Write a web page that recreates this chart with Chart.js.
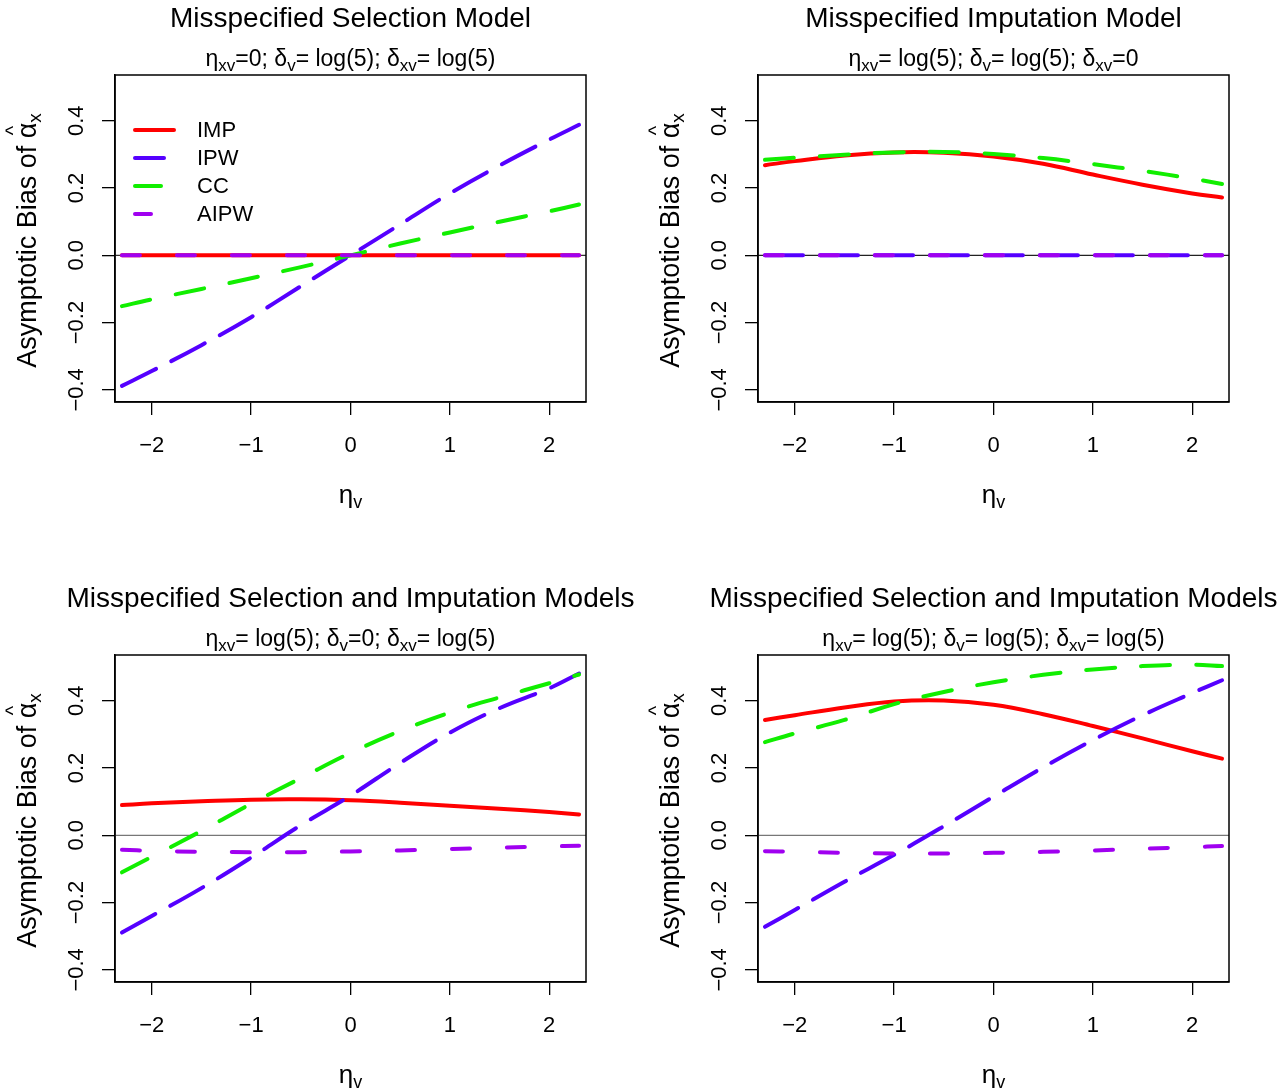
<!DOCTYPE html>
<html>
<head>
<meta charset="utf-8">
<script src="https://cdn.jsdelivr.net/npm/chart.js@4.4.1/dist/chart.umd.min.js"></script>
<style>
body{margin:0;background:#fff;width:1285px;height:1092px;position:relative;overflow:hidden}
canvas{position:absolute}
</style>
</head>
<body>
<canvas id="c1" width="642" height="512" style="left:0;top:0"></canvas>
<canvas id="c2" width="642" height="512" style="left:643px;top:0"></canvas>
<canvas id="c3" width="642" height="512" style="left:0;top:580px"></canvas>
<canvas id="c4" width="642" height="512" style="left:643px;top:580px"></canvas>
<script>
// eta_v grid
var etaV=[-2.3,-2,-1.5,-1,-0.5,0,0.5,1,1.5,2,2.3];
var xTicks=[-2,-1,0,1,2];
var yTicks=[-0.4,-0.2,0,0.2,0.4];
var seriesNames=['IMP','IPW','CC','AIPW'];

// misspecified selection model
var selIMP =[0,0,0,0,0,0,0,0,0,0,0];
var selIPW =[-0.388,-0.344,-0.267,-0.184,-0.092,0,0.092,0.184,0.267,0.344,0.388];
var selCC  =[-0.151,-0.131,-0.100,-0.068,-0.035,0,0.035,0.068,0.100,0.131,0.151];
var selAIPW=[0,0,0,0,0,0,0,0,0,0,0];

// misspecified imputation model
var impIMP =[0.268,0.280,0.297,0.306,0.305,0.294,0.272,0.240,0.210,0.184,0.172];
var impIPW =[0,0,0,0,0,0,0,0,0,0,0];
var impCC  =[0.284,0.290,0.299,0.306,0.307,0.301,0.289,0.271,0.251,0.228,0.212];
var impAIPW=[0,0,0,0,0,0,0,0,0,0,0];

// both misspecified, delta_v=0
var bothIMP =[0.090,0.095,0.101,0.106,0.107,0.104,0.097,0.088,0.079,0.069,0.062];
var bothIPW =[-0.289,-0.240,-0.157,-0.066,0.030,0.118,0.215,0.305,0.378,0.437,0.481];
var bothCC  =[-0.110,-0.064,0.013,0.094,0.170,0.245,0.310,0.365,0.410,0.452,0.478];
var bothAIPW=[-0.043,-0.046,-0.049,-0.050,-0.050,-0.048,-0.045,-0.041,-0.037,-0.033,-0.031];

// both misspecified, all log(5)
var allIMP =[0.343,0.357,0.380,0.398,0.401,0.388,0.360,0.325,0.288,0.250,0.228];
var allIPW =[-0.272,-0.222,-0.138,-0.058,0.027,0.115,0.202,0.283,0.357,0.423,0.461];
var allCC  =[0.277,0.303,0.343,0.390,0.426,0.455,0.477,0.493,0.503,0.507,0.503];
var allAIPW=[-0.047,-0.049,-0.052,-0.054,-0.054,-0.052,-0.049,-0.045,-0.040,-0.035,-0.032];

var colors={IMP:'#ff0000',IPW:'#5500ff',CC:'#11ee00',AIPW:'#a000f0'};
var dashes={IMP:[],IPW:[38,17],CC:[29,26],AIPW:[18,37]};
var legendLen={IMP:43,IPW:33,CC:30,AIPW:20};

var FONT='"Liberation Sans", Arial, Helvetica, sans-serif';
Chart.defaults.font.family=FONT;
Chart.defaults.color='#000';

function minus(s){ return String(s).replace('-','\u2212'); }

function drawParts(ctx, parts, cx, cy, size, subSize){
	var w=0;
	for(var i=0;i<parts.length;i++){
		ctx.font=(parts[i][1]?subSize:size)+'px '+FONT;
		w+=ctx.measureText(parts[i][0]).width;
	}
	var x=cx-w/2;
	ctx.textAlign='left';
	ctx.textBaseline='middle';
	for(var i=0;i<parts.length;i++){
		var sub=parts[i][1];
		ctx.font=(sub?subSize:size)+'px '+FONT;
		ctx.fillText(parts[i][0], x, cy+(sub?size*0.28:0));
		x+=ctx.measureText(parts[i][0]).width;
	}
}

var decor={
	id:'decor',
	beforeDatasetsDraw:function(chart){
		var o=chart.options.plugins.decor;
		var ctx=chart.ctx, a=chart.chartArea;
		var y0=chart.scales.y.getPixelForValue(0);
		ctx.save();
		ctx.strokeStyle=o.zeroColor;
		ctx.lineWidth=1.2;
		ctx.beginPath();
		ctx.moveTo(a.left,y0);ctx.lineTo(a.right,y0);
		ctx.stroke();
		ctx.restore();
	},
	afterDraw:function(chart){
		var o=chart.options.plugins.decor;
		var ctx=chart.ctx, a=chart.chartArea;
		var cx=(a.left+a.right)/2;
		ctx.save();
		ctx.fillStyle='#000';
		ctx.strokeStyle='#000';
		ctx.lineWidth=1.5;
		ctx.strokeRect(a.left,a.top,a.right-a.left,a.bottom-a.top);
		// title + subtitle
		ctx.font='28px '+FONT;
		ctx.textAlign='center';
		ctx.textBaseline='middle';
		ctx.fillText(o.title,cx,19);
		drawParts(ctx,o.sub,cx,60,23,17);
		// x label
		drawParts(ctx,[['\u03b7',''],['v','s']],cx,a.bottom+94,26,18);
		// y label
		ctx.translate(29,(a.top+a.bottom)/2);
		ctx.rotate(-Math.PI/2);
		var p1='Asymptotic Bias of ';
		ctx.font='27px '+FONT;
		var w1=ctx.measureText(p1).width, wa=ctx.measureText('\u03b1').width;
		ctx.font='19px '+FONT;
		var wx=ctx.measureText('x').width;
		var x=-(w1+wa+wx)/2-2;
		ctx.textAlign='left';
		ctx.font='27px '+FONT;
		ctx.fillText(p1,x,0);
		ctx.fillText('\u03b1',x+w1,0);
		ctx.font='20px '+FONT;
		ctx.textAlign='center';
		ctx.fillText('^',x+w1+wa/2,-15);
		ctx.textAlign='left';
		ctx.font='19px '+FONT;
		ctx.fillText('x',x+w1+wa,7);
		ctx.restore();
		// legend
		if(o.legend){
			ctx.save();
			ctx.lineWidth=4;
			ctx.lineCap='round';
			ctx.font='22px '+FONT;
			ctx.textAlign='left';
			ctx.textBaseline='middle';
			for(var i=0;i<seriesNames.length;i++){
				var n=seriesNames[i], ly=130+28*i;
				ctx.strokeStyle=colors[n];
				ctx.beginPath();
				ctx.moveTo(135,ly);ctx.lineTo(135+legendLen[n]-4,ly);
				ctx.stroke();
				ctx.fillStyle='#000';
				ctx.fillText(n,197,ly+1);
			}
			ctx.restore();
		}
	}
};

function makeChart(id, vals, title, sub, zeroColor, legend){
	var order={IMP:4,IPW:3,CC:2,AIPW:1};
	var ds=[];
	for(var i=0;i<seriesNames.length;i++){
		var n=seriesNames[i];
		ds.push({
			label:n,
			data:etaV.map(function(x,j){return {x:x,y:vals[i][j]};}),
			borderColor:colors[n],
			borderWidth:4,
			borderDash:dashes[n],
			borderCapStyle:'round',
			pointRadius:0,
			tension:0.4,
			fill:false,
			order:order[n]
		});
	}
	return new Chart(document.getElementById(id),{
		type:'line',
		data:{datasets:ds},
		plugins:[decor],
		options:{
			responsive:false,
			animation:false,
			layout:{padding:{top:75,right:56,left:0,bottom:0}},
			plugins:{
				legend:{display:false},
				tooltip:{enabled:false},
				decor:{title:title,sub:sub,zeroColor:zeroColor,legend:legend}
			},
			scales:{
				x:{
					type:'linear',min:-2.37,max:2.37,
					afterBuildTicks:function(s){s.ticks=xTicks.map(function(v){return {value:v};});},
					afterFit:function(s){s.height=110;},
					grid:{drawOnChartArea:false,drawTicks:true,tickLength:13,color:'#000',lineWidth:1.3},
					border:{display:true,color:'#000',width:1.5},
					ticks:{font:{size:22},color:'#000',padding:18,maxRotation:0,
						callback:function(v){return minus(v);}}
				},
				y:{
					type:'linear',min:-0.436,max:0.536,
					afterBuildTicks:function(s){s.ticks=yTicks.map(function(v){return {value:v};});},
					afterFit:function(s){s.width=115;},
					grid:{drawOnChartArea:false,drawTicks:true,tickLength:13,color:'#000',lineWidth:1.3},
					border:{display:true,color:'#000',width:1.5},
					ticks:{font:{size:22},color:'#000',padding:3,minRotation:90,maxRotation:90,crossAlign:'center',
						callback:function(v){return minus(v.toFixed(1));}}
				}
			}
		}
	});
}

var subA=[['\u03b7',''],['xv','s'],['=0; \u03b4',''],['v','s'],['= log(5); \u03b4',''],['xv','s'],['= log(5)','']];
var subB=[['\u03b7',''],['xv','s'],['= log(5); \u03b4',''],['v','s'],['= log(5); \u03b4',''],['xv','s'],['=0','']];
var subC=[['\u03b7',''],['xv','s'],['= log(5); \u03b4',''],['v','s'],['=0; \u03b4',''],['xv','s'],['= log(5)','']];
var subD=[['\u03b7',''],['xv','s'],['= log(5); \u03b4',''],['v','s'],['= log(5); \u03b4',''],['xv','s'],['= log(5)','']];

makeChart('c1',[selIMP,selIPW,selCC,selAIPW],'Misspecified Selection Model',subA,'#333',true);
makeChart('c2',[impIMP,impIPW,impCC,impAIPW],'Misspecified Imputation Model',subB,'#222',false);
makeChart('c3',[bothIMP,bothIPW,bothCC,bothAIPW],'Misspecified Selection and Imputation Models',subC,'#777',false);
makeChart('c4',[allIMP,allIPW,allCC,allAIPW],'Misspecified Selection and Imputation Models',subD,'#777',false);
</script>
</body>
</html>
